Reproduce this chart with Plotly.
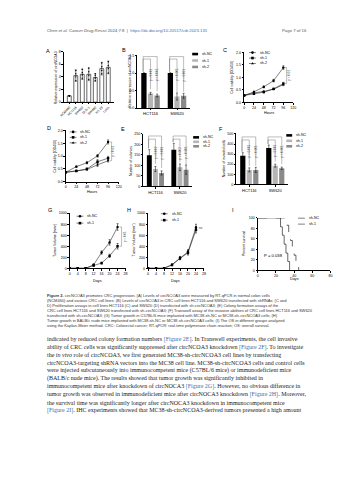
import plotly.graph_objects as go

W, H = 353, 480
SANS = "Liberation Sans, Arial, sans-serif"
SERIF = "Liberation Serif, Times New Roman, serif"

def px(x): return x / W
def py(y): return 1 - y / H

# ---------------- DATA ----------------
cells_A = ["NCM460", "HCT116", "SW620", "DLD-1", "SW480", "HT-29", "LoVo"]
expr_A = [1.0, 4.2, 4.4, 4.4, 3.9, 5.3, 5.5]
err_A = [0.05, 0.9, 0.8, 1.0, 0.6, 1.0, 1.0]
reps_A = [[0.98, 1.0, 1.02], [3.4, 4.0, 4.5, 5.0], [3.8, 4.3, 4.7, 5.2],
          [3.6, 4.2, 4.8, 5.4], [3.4, 3.8, 4.2, 4.5], [4.5, 5.0, 5.6, 6.2],
          [4.6, 5.3, 5.8, 6.4]]

lines_grp = ["HCT116", "SW620"]
groups = ["sh-NC", "sh-1", "sh-2"]
B_nc = [1.0, 1.0]; B_nc_err = [0.01, 0.01]
B_sh1 = [0.42, 0.33]; B_sh1_err = [0.03, 0.10]
B_sh2 = [0.36, 0.35]; B_sh2_err = [0.04, 0.07]

hours = [0, 24, 48, 72, 96]
C_nc = [0.28, 0.42, 0.62, 0.87, 1.39]; C_nc_err = [0.01, 0.03, 0.04, 0.05, 0.07]
C_sh1 = [0.28, 0.35, 0.41, 0.54, 0.75]; C_sh1_err = [0.01, 0.02, 0.03, 0.03, 0.05]
C_sh2 = [0.28, 0.38, 0.44, 0.53, 0.71]; C_sh2_err = [0.01, 0.02, 0.03, 0.03, 0.04]
D_nc = [0.37, 0.59, 0.74, 1.01, 1.55]; D_nc_err = [0.01, 0.03, 0.04, 0.05, 0.08]
D_sh1 = [0.37, 0.42, 0.50, 0.78, 0.92]; D_sh1_err = [0.01, 0.02, 0.04, 0.08, 0.07]
D_sh2 = [0.37, 0.43, 0.48, 0.66, 0.82]; D_sh2_err = [0.01, 0.02, 0.03, 0.06, 0.05]

E_nc = [148, 175]; E_nc_err = [27, 30]
E_sh1 = [83, 91]; E_sh1_err = [12, 16]
E_sh2 = [64, 80]; E_sh2_err = [10, 22]

F_nc = [284, 360]; F_nc_err = [30, 30]
F_sh1 = [144, 186]; F_sh1_err = [20, 15]
F_sh2 = [144, 160]; F_sh2_err = [25, 12]

days_GH = [0, 4, 8, 12, 16, 20, 24]
G_nc = [0, 0, 0, 63, 286, 470, 750]; G_nc_err = [0, 0, 0, 15, 30, 50, 60]
G_sh1 = [0, 0, 0, 50, 94, 226, 400]; G_sh1_err = [0, 0, 0, 12, 20, 30, 50]
H_nc = [0, 0, 0, 65, 190, 300, 740]; H_nc_err = [0, 0, 0, 12, 25, 40, 60]
H_sh1 = [0, 0, 0, 60, 180, 280, 700]; H_sh1_err = [0, 0, 0, 12, 25, 40, 60]

I_nc_days = [0, 25, 27, 29, 31, 33, 35]
I_nc_surv = [100, 83, 67, 50, 33, 17, 0]
I_sh1_days = [0, 32, 34, 36, 38, 40, 42, 45]
I_sh1_surv = [100, 86, 71, 57, 43, 29, 14, 0]

header_left = ("<i>Chen et al. Cancer Drug Resist</i> 2024;7:8  |  "
               "<span style='color:#3a6fb0'>https://dx.doi.org/10.20517/cdr.2023.131</span>")
header_right = "Page 7 of 16"

caption_lines = [
    "<b>Figure 2.</b> circNCOA3 promotes CRC progression. (A) Levels of circNCOA3 were measured by RT-qPCR in normal colon cells",
    "(NCM460) and various CRC cell lines; (B) Levels of circNCOA3 in CRC cell lines HCT116 and SW620 transfected with shRNAs; (C and",
    "D) Proliferation assays in cell lines HCT116 (C) and SW620 (D) transfected with sh-circNCOA3; (E) Colony formation assays of the",
    "CRC cell lines HCT116 and SW620 transfected with sh-circNCOA3; (F) Transwell assay of the invasive abilities of CRC cell lines HCT116 and SW620",
    "transfected with sh-circNCOA3; (G) Tumor growth in C57BL/6 mice implanted with MC38-sh-NC or MC38-sh-circNCOA3 cells; (H)",
    "Tumor growth in BALB/c nude mice implanted with MC38-sh-NC or MC38-sh-circNCOA3 cells; (I) The OS in different groups analyzed",
    "using the Kaplan-Meier method. CRC: Colorectal cancer; RT-qPCR: real-time polymerase chain reaction; OS: overall survival.",
]

BL = "color:#3a6fb0"
body_lines = [
    f"indicated by reduced colony formation numbers <span style='{BL}'>[Figure 2E]</span>. In Transwell experiments, the cell invasive",
    f"ability of CRC cells was significantly suppressed after circNCOA3 knockdown <span style='{BL}'>[Figure 2F]</span>. To investigate",
    "the <i>in vivo</i> role of circNCOA3, we first generated MC38-sh-circNCOA3 cell lines by transfecting",
    "circNCOA3-targeting shRNA vectors into the MC38 cell line. MC38-sh-circNCOA3 cells and control cells",
    "were injected subcutaneously into immunocompetent mice (C57BL/6 mice) or immunodeficient mice",
    "(BALB/c nude mice). The results showed that tumor growth was significantly inhibited in",
    f"immunocompetent mice after knockdown of circNOCA3 <span style='{BL}'>[Figure 2G]</span>. However, no obvious difference in",
    f"tumor growth was observed in immunodeficient mice after circNOCA3 knockdown <span style='{BL}'>[Figure 2H]</span>. Moreover,",
    "the survival time was significantly longer after circNOCA3 knockdown in immunocompetent mice",
    f"<span style='{BL}'>[Figure 2I]</span>. IHC experiments showed that MC38-sh-circNCOA3-derived tumors presented a high amount",
]

# ---------------- LAYOUT HELPERS ----------------
fig = go.Figure()
layout = dict(width=W, height=H, margin=dict(l=0, r=0, t=0, b=0),
              paper_bgcolor="white", plot_bgcolor="rgba(0,0,0,0)",
              showlegend=False, barmode="group", bargap=0.25, bargroupgap=0.2,
              font=dict(family=SANS, color="black", size=4))
annotations = []
shapes = []

def base_axis():
    return dict(showline=True, linecolor="black", linewidth=0.6, ticks="outside",
                ticklen=1.5, tickwidth=0.5, tickcolor="black",
                tickfont=dict(size=3.6, color="black", family=SANS),
                showgrid=False, zeroline=False, fixedrange=True)

def make_axes(i, xpx, ypx, xkw, ykw):
    xa = base_axis(); ya = base_axis()
    xa.update(domain=[px(xpx[0]), px(xpx[1])], anchor=f"y{i}")
    ya.update(domain=[py(ypx[1]), py(ypx[0])], anchor=f"x{i}")
    xa.update(xkw); ya.update(ykw)
    layout[f"xaxis{i}"] = xa
    layout[f"yaxis{i}"] = ya

def text(x, y, s, size=4, xanchor="left", yanchor="middle", angle=0, family=SANS,
         color="black", xref="paper", yref="paper"):
    if xref == "paper":
        x = px(x)
    if yref == "paper":
        y = py(y)
    annotations.append(dict(x=x, y=y, xref=xref, yref=yref, text=s, showarrow=False,
                            xanchor=xanchor, yanchor=yanchor, textangle=angle,
                            font=dict(size=size, family=family, color=color)))

def label(x, y, s):
    text(x, y, s, size=5.5, xanchor="center")

def ytitle(x, yc, s):
    text(x, yc, s, size=3.5, xanchor="center", angle=-90)

BAR_COLORS = ["black", "#b5b5b5", "#8a8a8a"]
MARKERS = ["circle", "square", "triangle-up"]

# overlay axis (pixel coords) for legend keys
layout["xaxis10"] = dict(domain=[0, 1], range=[0, W], visible=False, fixedrange=True, anchor="y10")
layout["yaxis10"] = dict(domain=[0, 1], range=[H, 0], visible=False, fixedrange=True, anchor="x10")

def legend_bars(x, ys, names):
    for k, (yy, nm) in enumerate(zip(ys, names)):
        shapes.append(dict(type="rect", xref="x10", yref="y10", x0=x, x1=x + 6,
                           y0=yy - 1.3, y1=yy + 1.3, fillcolor=BAR_COLORS[k], line=dict(width=0)))
        text(x + 8, yy, nm, size=3.6)

def legend_lines(x, ys, names, markers=True, dashes=None):
    for k, (yy, nm) in enumerate(zip(ys, names)):
        dash = dashes[k] if dashes else "solid"
        fig.add_trace(go.Scatter(x=[x, x + 7], y=[yy, yy], xaxis="x10", yaxis="y10",
                                 mode="lines", line=dict(color="black", width=0.5, dash=dash),
                                 hoverinfo="skip"))
        if markers:
            fig.add_trace(go.Scatter(x=[x + 3.5], y=[yy], xaxis="x10", yaxis="y10", mode="markers",
                                     marker=dict(symbol=MARKERS[k], size=2.6, color="black"),
                                     hoverinfo="skip"))
        text(x + 9, yy, nm, size=3.6)

def group_bars(i, nc, ncE, s1, s1E, s2, s2E):
    vals = [(nc, ncE), (s1, s1E), (s2, s2E)]
    for k, (v, e) in enumerate(vals):
        fig.add_trace(go.Bar(x=lines_grp, y=v, name=groups[k], marker_color=BAR_COLORS[k],
                             marker_line_width=0, xaxis=f"x{i}", yaxis=f"y{i}",
                             error_y=dict(type="data", array=e, color="black",
                                          thickness=0.5, width=1)))

def brackets(i, nc, ncE, s1, s2, tops, labels_, text_y, pad):
    w = 0.75 / 3
    for ci in range(len(lines_grp)):
        x0 = ci - w
        for k, other in ((1, s1), (2, s2)):
            xk = ci + (k - 1) * w
            top = tops[k - 1]
            path = (f"M {x0 - 0.03},{nc[ci] + ncE[ci] + pad} L {x0 - 0.03},{top} "
                    f"L {xk},{top} L {xk},{other[ci] + pad * 4}")
            shapes.append(dict(type="path", path=path, xref=f"x{i}", yref=f"y{i}",
                               line=dict(color="#555", width=0.4)))
            text(xk, text_y, labels_[k - 1], size=3.0, xanchor="center", angle=-90,
                 xref=f"x{i}", yref=f"y{i}", color="#333")

# ---------------- PANEL A ----------------
make_axes(1, (61, 112), (50, 101),
          dict(tickangle=-45, ticks="outside", tickfont=dict(size=3.2, family=SANS)),
          dict(range=[0, 8], tickvals=[0, 2, 4, 6, 8]))
fig.add_trace(go.Bar(x=cells_A, y=expr_A, xaxis="x1", yaxis="y1", width=0.6,
                     marker=dict(color="white", line=dict(color="black", width=0.6)),
                     error_y=dict(type="data", array=err_A, color="black", thickness=0.5, width=1)))
for c, reps in zip(cells_A, reps_A):
    fig.add_trace(go.Scatter(x=[c] * len(reps), y=reps, xaxis="x1", yaxis="y1", mode="markers",
                             marker=dict(size=1.4, color="black")))
label(45, 49, "A")
ytitle(53, 76, "Relative expression of circNCOA3")

# ---------------- PANEL B ----------------
make_axes(2, (136, 190), (54, 107), dict(tickfont=dict(size=4.2)),
          dict(range=[0, 1.5], tickvals=[0, 0.5, 1.0, 1.5], ticktext=["0.0", "0.5", "1.0", "1.5"]))
group_bars(2, B_nc, B_nc_err, B_sh1, B_sh1_err, B_sh2, B_sh2_err)
brackets(2, B_nc, B_nc_err, B_sh1, B_sh2, [1.40, 1.47], ["p < 0.001", "p < 0.001"], 0.95, 0.03)
legend_bars(192, [52.5, 59, 65.5], groups)
label(122, 48, "B")
ytitle(129, 80, "Relative expression of circNCOA3")

# ---------------- PANEL C ----------------
make_axes(3, (245, 295), (50.7, 101.3),
          dict(range=[0, 120], tickvals=[0, 24, 48, 72, 96, 120]),
          dict(range=[0, 2.0], tickvals=[0, 0.5, 1.0, 1.5, 2.0], ticktext=["0.0", "0.5", "1.0", "1.5", "2.0"]))
for k, (v, e) in enumerate([(C_nc, C_nc_err), (C_sh1, C_sh1_err), (C_sh2, C_sh2_err)]):
    fig.add_trace(go.Scatter(x=hours, y=v, xaxis="x3", yaxis="y3", mode="lines+markers",
                             line=dict(color="black", width=0.5),
                             marker=dict(symbol=MARKERS[k], size=2.4, color="black"),
                             error_y=dict(type="data", array=e, color="black", thickness=0.5, width=1)))
shapes.append(dict(type="path", xref="x3", yref="y3", line=dict(color="#555", width=0.4),
                   path="M 100,1.39 L 104,1.39 L 104,0.75 L 100,0.75"))
text(108, 1.07, "p < 0.01", size=3.0, xanchor="center", angle=-90, xref="x3", yref="y3", color="#333")
legend_lines(250, [51, 56.5, 62], groups)
text(270, 111.5, "Hours", size=3.8, xanchor="center")
label(225, 48, "C")
ytitle(233, 76, "Cell viability (OD450)")

# ---------------- PANEL D ----------------
make_axes(4, (63, 117), (129.5, 181.3),
          dict(range=[0, 120], tickvals=[0, 24, 48, 72, 96, 120]),
          dict(range=[0, 2.0], tickvals=[0, 0.5, 1.0, 1.5, 2.0], ticktext=["0.0", "0.5", "1.0", "1.5", "2.0"]))
for k, (v, e) in enumerate([(D_nc, D_nc_err), (D_sh1, D_sh1_err), (D_sh2, D_sh2_err)]):
    fig.add_trace(go.Scatter(x=hours, y=v, xaxis="x4", yaxis="y4", mode="lines+markers",
                             line=dict(color="black", width=0.5),
                             marker=dict(symbol=MARKERS[k], size=2.4, color="black"),
                             error_y=dict(type="data", array=e, color="black", thickness=0.5, width=1)))
shapes.append(dict(type="path", xref="x4", yref="y4", line=dict(color="#555", width=0.4),
                   path="M 100,1.55 L 104,1.55 L 104,0.82 L 100,0.82"))
text(108, 1.18, "p < 0.01", size=3.0, xanchor="center", angle=-90, xref="x4", yref="y4", color="#333")
legend_lines(67, [131, 136.5, 142], groups)
text(90, 192, "Hours", size=3.8, xanchor="center")
label(46, 127.5, "D")
ytitle(52, 155, "Cell viability (OD450)")

# ---------------- PANEL E ----------------
make_axes(5, (142, 192), (133, 186), dict(tickfont=dict(size=4.0)),
          dict(range=[0, 250], tickvals=[0, 50, 100, 150, 200, 250]))
group_bars(5, E_nc, E_nc_err, E_sh1, E_sh1_err, E_sh2, E_sh2_err)
brackets(5, E_nc, E_nc_err, E_sh1, E_sh2, [225, 240], ["p = 0.002", "p < 0.001"], 160, 6)
legend_bars(193, [136.5, 141, 145.5], groups)
label(121, 128, "E")
ytitle(129, 160, "Number of colonies")

# ---------------- PANEL F ----------------
make_axes(6, (237, 290), (133, 184), dict(tickfont=dict(size=4.0)),
          dict(range=[0, 500], tickvals=[0, 100, 200, 300, 400, 500]))
group_bars(6, F_nc, F_nc_err, F_sh1, F_sh1_err, F_sh2, F_sh2_err)
brackets(6, F_nc, F_nc_err, F_sh1, F_sh2, [440, 470], ["p < 0.001", "p < 0.001"], 330, 10)
legend_bars(288, [134.5, 140, 145.5], groups)
label(221, 128, "F")
ytitle(224, 158, "Number of invaded cells")

# ---------------- PANEL G ----------------
make_axes(7, (67, 124), (213, 268.5),
          dict(range=[0, 28], tickvals=[0, 4, 8, 12, 16, 20, 24, 28]),
          dict(range=[0, 1000], tickvals=[0, 200, 400, 600, 800, 1000]))
for k, (v, e) in enumerate([(G_nc, G_nc_err), (G_sh1, G_sh1_err)]):
    fig.add_trace(go.Scatter(x=days_GH, y=v, xaxis="x7", yaxis="y7", mode="lines+markers",
                             line=dict(color="black", width=0.5),
                             marker=dict(symbol=MARKERS[k], size=2.4, color="black"),
                             error_y=dict(type="data", array=e, color="black", thickness=0.5, width=1)))
shapes.append(dict(type="path", xref="x7", yref="y7", line=dict(color="#555", width=0.4),
                   path="M 25,750 L 26,750 L 26,400 L 25,400"))
text(27.5, 575, "p < 0.01", size=3.0, xanchor="center", angle=-90, xref="x7", yref="y7", color="#333")
legend_lines(74, [216, 223], groups[:2])
text(95, 281, "Days", size=3.8, xanchor="center")
label(46.7, 210, "G")
ytitle(52, 240, "Tumor Volume (mm<sup>3</sup>)")

# ---------------- PANEL H ----------------
make_axes(8, (147, 204), (213, 268.5),
          dict(range=[0, 28], tickvals=[0, 4, 8, 12, 16, 20, 24, 28]),
          dict(range=[0, 1000], tickvals=[0, 200, 400, 600, 800, 1000]))
for k, (v, e) in enumerate([(H_nc, H_nc_err), (H_sh1, H_sh1_err)]):
    fig.add_trace(go.Scatter(x=days_GH, y=v, xaxis="x8", yaxis="y8", mode="lines+markers",
                             line=dict(color="black", width=0.5),
                             marker=dict(symbol=MARKERS[k], size=2.4, color="black"),
                             error_y=dict(type="data", array=e, color="black", thickness=0.5, width=1)))
text(26.5, 740, "ns", size=3.2, xanchor="center", xref="x8", yref="y8", color="#333")
legend_lines(160, [213.5, 220], groups[:2])
text(175, 281, "Days", size=3.8, xanchor="center")
label(127.7, 210, "H")
ytitle(132, 240, "Tumor Volume (mm<sup>3</sup>)")

# ---------------- PANEL I ----------------
make_axes(9, (259, 333), (217.7, 270.7),
          dict(range=[0, 80], tickvals=[0, 20, 40, 60, 80]),
          dict(range=[0, 100], tickvals=[0, 20, 40, 60, 80, 100]))
fig.add_trace(go.Scatter(x=I_nc_days, y=I_nc_surv, xaxis="x9", yaxis="y9", mode="lines",
                         line=dict(color="black", width=0.6, shape="hv")))
fig.add_trace(go.Scatter(x=I_sh1_days, y=I_sh1_surv, xaxis="x9", yaxis="y9", mode="lines",
                         line=dict(color="black", width=0.6, shape="hv", dash="dash")))
text(263, 256, "P = 0.038", size=4.2)
legend_lines(300, [218, 224], groups[:2], markers=False, dashes=["solid", "dash"])
text(296, 279, "Days", size=3.8, xanchor="center")
label(234, 210, "I")
ytitle(245, 244, "Percent survival")

# ---------------- PAGE TEXT ----------------
text(42, 29, header_left, size=4.3, color="#555")
text(311, 29, header_right, size=4.3, color="#555", xanchor="right")
for j, ln in enumerate(caption_lines):
    text(42, 296 + 5.0 * j, ln, size=4.0, color="#333")
for j, ln in enumerate(body_lines):
    text(42, 340 + 8.0 * j, ln, size=6.0, family=SERIF, color="#222")

layout["annotations"] = annotations
layout["shapes"] = shapes
fig.update_layout(**layout)
fig.write_html("out.html")
